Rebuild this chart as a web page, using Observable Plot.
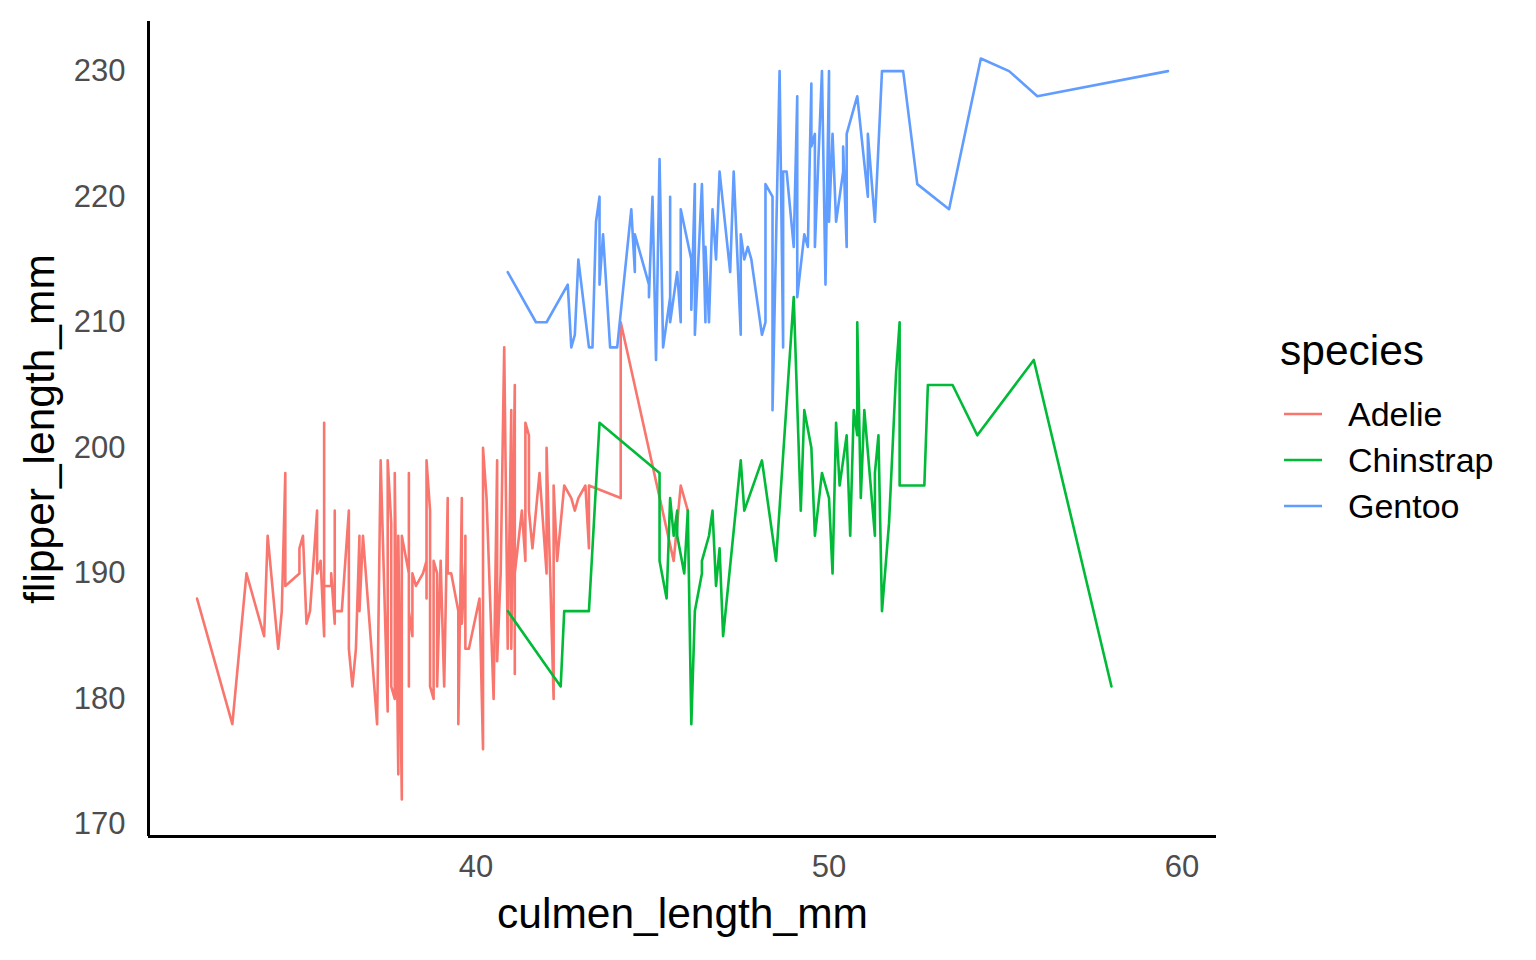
<!DOCTYPE html>
<html>
<head>
<meta charset="utf-8">
<script src="https://cdn.jsdelivr.net/npm/d3@7"></script>
<script src="https://cdn.jsdelivr.net/npm/@observablehq/plot@0.6"></script>
<style>
  body { margin: 0; background: #fff; font-family: "Liberation Sans", Arial, sans-serif; }
  #wrap { position: relative; width: 1536px; height: 960px; }
  #legend { position: absolute; left: 1280px; top: 327px; color: #000; }
  #legend .title { font-size: 42.5px; line-height: 48px; margin-bottom: 16px; }
  #legend .item { display: flex; align-items: center; height: 46px; font-size: 34px; }
  #legend svg { margin-left: 4px; margin-right: 26px; }
</style>
</head>
<body>
<div id="wrap"></div>
<script>
const species = ["Adelie", "Chinstrap", "Gentoo"];
const colors = ["#F8766D", "#00BA38", "#619CFF"];
const xTicks = [40, 50, 60];
const yTicks = [170, 180, 190, 200, 210, 220, 230];

const adelieX = [32.1,33.1,33.5,34.0,34.1,34.4,34.5,34.6,34.6,35.0,35.0,35.1,35.2,35.3,35.5,35.5,35.6,35.7,35.7,35.7,35.9,35.9,36.0,36.0,36.0,36.2,36.4,36.4,36.5,36.6,36.7,36.7,36.8,37.2,37.3,37.5,37.5,37.6,37.6,37.7,37.7,37.8,37.8,37.9,37.9,38.1,38.1,38.1,38.1,38.2,38.2,38.3,38.5,38.6,38.6,38.6,38.7,38.7,38.8,38.8,38.9,38.9,39.0,39.1,39.2,39.2,39.3,39.5,39.5,39.6,39.6,39.7,39.7,39.7,39.8,40.1,40.2,40.2,40.3,40.5,40.6,40.6,40.7,40.8,40.9,41.0,41.0,41.1,41.1,41.1,41.3,41.4,41.4,41.5,41.5,41.6,41.8,42.0,42.0,42.2,42.2,42.3,42.5,42.7,42.8,42.9,43.1,43.2,43.2,44.1,44.1,45.6,45.8,46.0];
const adelieY = [188,178,190,185,193,184,187,198,189,190,192,193,186,187,195,190,191,185,202,189,189,190,186,195,187,187,195,184,181,184,193,187,193,178,199,179,199,194,181,180,198,174,193,172,193,190,181,198,187,185,190,189,190,191,188,199,195,181,180,191,190,181,191,181,196,190,190,187,178,196,186,191,193,184,184,188,176,200,196,180,199,183,190,208,184,203,184,205,182,190,195,191,202,201,195,192,198,190,200,180,197,191,197,196,195,196,197,192,197,196,210,191,197,195];

const chinstrapX = [40.9,42.4,42.5,43.2,43.5,45.2,45.2,45.4,45.5,45.6,45.7,45.7,45.9,46.0,46.1,46.2,46.4,46.4,46.6,46.7,46.8,46.9,47.0,47.5,47.6,48.1,48.5,49.0,49.2,49.3,49.5,49.6,49.8,50.0,50.1,50.2,50.3,50.5,50.6,50.7,50.8,50.8,50.9,51.0,51.3,51.3,51.4,51.5,51.7,51.9,52.0,52.0,52.2,52.7,52.8,53.5,54.2,55.8,58.0];
const chinstrapY = [187,181,187,187,202,198,191,188,196,193,195,193,190,195,178,187,190,191,193,195,189,192,185,199,195,199,191,212,195,203,200,193,198,196,190,202,197,201,193,203,201,210,196,203,193,198,201,187,194,206,210,197,197,197,205,205,201,207,181];

const gentooX = [40.9,41.7,42.0,42.6,42.7,42.8,42.9,43.2,43.3,43.4,43.5,43.5,43.6,43.8,44.0,44.4,44.5,44.5,44.9,44.9,45.0,45.1,45.2,45.3,45.5,45.5,45.5,45.7,45.8,45.8,46.1,46.1,46.2,46.2,46.3,46.4,46.5,46.5,46.6,46.7,46.8,46.9,47.2,47.3,47.5,47.5,47.6,47.7,47.8,48.1,48.2,48.2,48.4,48.4,48.6,48.7,48.7,48.8,49.0,49.1,49.1,49.3,49.4,49.5,49.5,49.6,49.6,49.8,49.9,50.0,50.0,50.1,50.2,50.4,50.4,50.5,50.5,50.8,51.1,51.1,51.3,51.5,52.1,52.5,53.4,54.3,55.1,55.9,59.6];
const gentooY = [214,210,210,213,208,209,215,208,208,218,220,213,217,208,208,219,214,217,213,212,220,207,223,208,212,220,210,214,210,219,215,211,221,209,215,221,210,216,210,219,215,222,214,222,209,217,215,216,215,209,210,221,220,203,230,208,222,222,216,228,212,217,216,229,224,225,216,230,213,230,218,225,218,222,224,216,225,228,220,225,218,230,230,221,219,231,230,228,230];

const series = {Adelie: [adelieX, adelieY], Chinstrap: [chinstrapX, chinstrapY], Gentoo: [gentooX, gentooY]};
const data = [];
for (const s of species) {
  const [xs, ys] = series[s];
  xs.forEach((x, i) => data.push({species: s, culmen_length_mm: x, flipper_length_mm: ys[i]}));
}

function expand(ext) { const r = ext[1] - ext[0]; return [ext[0] - 0.05 * r, ext[1] + 0.05 * r]; }
const xDom = expand(d3.extent(data, d => d.culmen_length_mm));
const yDom = expand(d3.extent(data, d => d.flipper_length_mm));

const chart = Plot.plot({
  width: 1536,
  height: 960,
  marginLeft: 148,
  marginRight: 320,
  marginTop: 21,
  marginBottom: 124,
  style: {fontFamily: "'Liberation Sans', Arial, sans-serif", background: "#fff"},
  x: {domain: xDom},
  y: {domain: yDom},
  color: {domain: species, range: colors},
  marks: [
    Plot.axisX({ticks: xTicks, tickSize: 0, tickPadding: 18, fontSize: 31, fill: "#4d4d4d", label: null}),
    Plot.axisY({ticks: yTicks, tickSize: 0, tickPadding: 23, fontSize: 31, fill: "#4d4d4d", label: null}),
    Plot.lineY(data, {x: "culmen_length_mm", y: "flipper_length_mm", z: "species", stroke: "species", strokeWidth: 2.6}),
    Plot.ruleX([xDom[0]], {stroke: "#000", strokeWidth: 3}),
    Plot.ruleY([yDom[0]], {stroke: "#000", strokeWidth: 3}),
    Plot.text(["culmen_length_mm"], {frameAnchor: "bottom", dy: 91, fontSize: 42.5, fill: "#000", textAnchor: "middle"}),
    Plot.text(["flipper_length_mm"], {frameAnchor: "left", dx: -108, rotate: -90, fontSize: 42.5, fill: "#000", textAnchor: "middle"})
  ]
});

const wrap = document.getElementById("wrap");
wrap.appendChild(chart);

const legend = document.createElement("div");
legend.id = "legend";
legend.innerHTML = `<div class="title">species</div>` + species.map((s, i) =>
  `<div class="item"><svg width="38" height="10"><line x1="0" x2="38" y1="5" y2="5" stroke="${colors[i]}" stroke-width="2.6"/></svg><span>${s}</span></div>`
).join("");
wrap.appendChild(legend);
</script>
</body>
</html>
